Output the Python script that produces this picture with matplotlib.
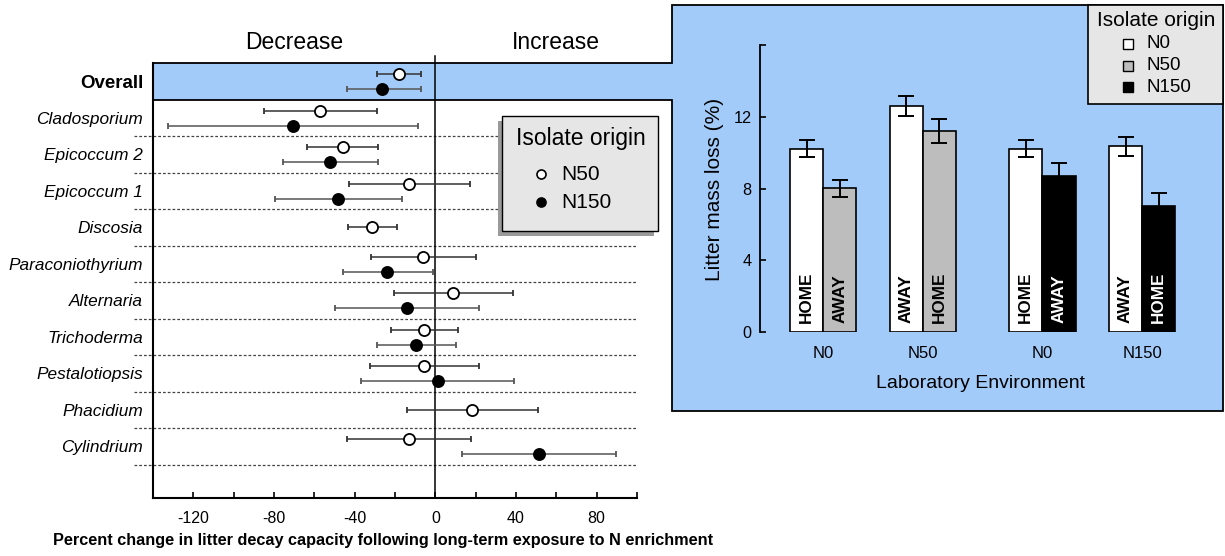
import numpy as np
import matplotlib
matplotlib.use("Agg")
import matplotlib.pyplot as plt
from matplotlib.transforms import Affine2D
from matplotlib.patches import Polygon, Rectangle
from matplotlib.lines import Line2D

plt.rcParams['font.family'] = ['Liberation Sans', 'DejaVu Sans']

# left panel: percent change in decay capacity (mean, lower, upper CI)
taxa = ['Overall', 'Cladosporium', 'Epicoccum 2', 'Epicoccum 1', 'Discosia',
        'Paraconiothyrium', 'Alternaria', 'Trichoderma', 'Pestalotiopsis',
        'Phacidium', 'Cylindrium']
n50_mean = [-17.8, -57.2, -46.0, -13.1, -31.4, -6.0, 8.6, -5.6, -5.6, 18.1, -13.1]
n50_lo = [-28.8, -85.2, -63.7, -43.0, -43.4, -31.8, -20.6, -22.2, -32.5, -14.2, -43.7]
n50_hi = [-7.3, -29.0, -28.6, 17.0, -18.9, 20.0, 38.5, 11.0, 21.7, 50.8, 17.6]
n150_mean = [-26.3, -70.5, -52.3, -48.2, np.nan, -23.9, -14.0, -9.5, 1.1, np.nan, 51.2]
n150_lo = [-44.0, -132.7, -75.5, -79.6, np.nan, -46.0, -49.7, -29.0, -37.0, np.nan, 13.1]
n150_hi = [-7.3, -8.8, -28.6, -16.6, np.nan, -1.1, 21.9, 10.3, 38.9, np.nan, 89.7]

# right panel: litter mass loss (%) by laboratory environment
env_labels = ['N0', 'N50', 'N0', 'N150']
n0_loss = [10.24, 12.6, 10.24, 10.37]
n0_se = [0.46, 0.55, 0.46, 0.52]
n0_tag = ['HOME', 'AWAY', 'HOME', 'AWAY']
enr_loss = [8.02, 11.23, 8.73, 7.01]
enr_se = [0.48, 0.68, 0.71, 0.75]
enr_origin = ['N50', 'N50', 'N150', 'N150']
enr_tag = ['AWAY', 'HOME', 'AWAY', 'HOME']

W, H = 1225, 556
BLUE = '#a3cbfa'
LEG_GREY = '#e6e6e6'
origin_col = {'N0': 'white', 'N50': '#bdbdbd', 'N150': 'black'}

fig = plt.figure(figsize=(W / 100, H / 100), dpi=100)
px = Affine2D().scale(1.0 / W, -1.0 / H).translate(0, 1) + fig.transFigure


def box(x0, y0, x1, y1):
    return [x0 / W, 1 - y1 / H, (x1 - x0) / W, (y1 - y0) / H]


# blue callout shape (right panel joined to the Overall band)
shape = Polygon([(672, 5), (1223, 5), (1223, 411), (672, 411), (672, 100),
                 (153, 100), (153, 63), (672, 63)], closed=True,
                facecolor=BLUE, edgecolor='black', lw=1.3, transform=px, zorder=-1)
fig.add_artist(shape)

# ---------------- left panel ----------------
row_h = 36.5
ax1 = fig.add_axes(box(153, 63, 637, 498.3))
ax1.set_facecolor('none')
ybot = (498.3 - 63) / row_h
ax1.set_xlim(-140, 100)
ax1.set_ylim(ybot, 0)

for i in range(len(taxa)):
    single = np.isnan(n150_mean[i])
    y50 = i + (0.5 if single else 0.31)
    ax1.errorbar(n50_mean[i], y50,
                 xerr=[[n50_mean[i] - n50_lo[i]], [n50_hi[i] - n50_mean[i]]],
                 fmt='o', ms=8, mfc='white', mec='black', mew=1.3,
                 ecolor='#333333', elinewidth=1.1, capsize=2.2, capthick=1.1, zorder=4)
    if not single:
        ax1.errorbar(n150_mean[i], i + 0.72,
                     xerr=[[n150_mean[i] - n150_lo[i]], [n150_hi[i] - n150_mean[i]]],
                     fmt='o', ms=8, mfc='black', mec='black', mew=1.3,
                     ecolor='#555555', elinewidth=1.1, capsize=2.2, capthick=1.1, zorder=4)

for i in range(2, len(taxa) + 1):
    ax1.plot([-149.5, 100], [i, i], ls=(0, (2.2, 1.6)), color='#444444', lw=0.9,
             clip_on=False, zorder=1)

ax1.plot([0, 0], [-0.2, ybot], color='black', lw=1.1, clip_on=False, zorder=3)

ax1.text(-70, -0.57, 'Decrease', ha='center', va='center', fontsize=16.5)
ax1.text(60, -0.57, 'Increase', ha='center', va='center', fontsize=16.5)

for s in ['top', 'right']:
    ax1.spines[s].set_visible(False)
for s in ['left', 'bottom']:
    ax1.spines[s].set_linewidth(1.5)

ax1.set_xticks(np.arange(-120, 81, 40))
ax1.set_xticklabels([str(v) for v in range(-120, 81, 40)], fontsize=11.5)
ax1.set_xticks(np.arange(-140, 101, 20), minor=True)
ax1.tick_params(axis='x', which='both', direction='in', length=4.5, width=1.2, pad=9)
ax1.set_yticks(np.arange(len(taxa)) + 0.5)
ax1.set_yticklabels(taxa)
ax1.tick_params(axis='y', length=0, pad=7)
for k, lab in enumerate(ax1.get_yticklabels()):
    if k == 0:
        lab.set_fontweight('bold')
        lab.set_fontsize(13.5)
    else:
        lab.set_fontstyle('italic')
        lab.set_fontsize(12.4)

fig.text(383, 541, 'Percent change in litter decay capacity following long-term exposure to N enrichment',
         transform=px, ha='center', va='center', fontsize=11.7, fontweight='bold')

# left legend with shadow
fig.add_artist(Rectangle((498, 121), 156, 115, facecolor='#9a9a9a', edgecolor='none',
                         transform=px, zorder=5))
fig.add_artist(Rectangle((502, 116), 156, 115, facecolor=LEG_GREY, edgecolor='black',
                         lw=1.0, transform=px, zorder=6))
fig.text(581, 139, 'Isolate origin', transform=px, ha='center', va='center',
         fontsize=16.5, zorder=7)
for yy, fc, name in [(174, 'white', 'N50'), (202, 'black', 'N150')]:
    fig.add_artist(Line2D([541], [yy], marker='o', ms=6.5, mfc=fc, mec='black', mew=1.2,
                          transform=px, zorder=7))
    fig.text(561, yy, name, transform=px, ha='left', va='center', fontsize=15, zorder=7)

# ---------------- right panel ----------------
grp_x = np.array([1.9, 4.9, 8.5, 11.5])
ax2 = fig.add_axes(box(760, 45.3, 1192, 332))
ax2.set_facecolor('none')
ax2.set_xlim(0, 13)
ax2.set_ylim(0, 16)

ax2.bar(grp_x - 0.5, n0_loss, width=1.0, color=origin_col['N0'], edgecolor='black', lw=1.2, zorder=2)
ax2.bar(grp_x + 0.5, enr_loss, width=1.0, color=[origin_col[o] for o in enr_origin],
        edgecolor='black', lw=1.2, zorder=2)
ax2.errorbar(grp_x - 0.5, n0_loss, yerr=n0_se, fmt='none', ecolor='black',
             elinewidth=1.4, capsize=6, capthick=1.4, zorder=3)
ax2.errorbar(grp_x + 0.5, enr_loss, yerr=enr_se, fmt='none', ecolor='black',
             elinewidth=1.4, capsize=6, capthick=1.4, zorder=3)

for j in range(len(grp_x)):
    ax2.text(grp_x[j] - 0.5, 0.5, n0_tag[j], rotation=90, ha='center', va='bottom',
             fontsize=12.3, fontweight='bold', color='black', zorder=4)
    tc = 'white' if enr_origin[j] == 'N150' else 'black'
    ax2.text(grp_x[j] + 0.5, 0.5, enr_tag[j], rotation=90, ha='center', va='bottom',
             fontsize=12.3, fontweight='bold', color=tc, zorder=4)

for s in ['top', 'right', 'bottom']:
    ax2.spines[s].set_visible(False)
ax2.spines['left'].set_linewidth(1.3)
ax2.set_yticks([0, 4, 8, 12, 16])
ax2.set_yticklabels(['0', '4', '8', '12', ''], fontsize=11.7)
ax2.tick_params(axis='y', direction='in', length=4, width=1.2, pad=6)
ax2.set_xticks(grp_x)
ax2.set_xticklabels(env_labels, fontsize=12)
ax2.tick_params(axis='x', length=0, pad=10)

fig.text(714, 189, 'Litter mass loss (%)', transform=px, rotation=90,
         ha='center', va='center', fontsize=15)
fig.text(980, 383, 'Laboratory Environment', transform=px, ha='center', va='center',
         fontsize=14)

# right legend
fig.add_artist(Rectangle((1088, 5), 135, 99, facecolor=LEG_GREY, edgecolor='black',
                         lw=1.2, transform=px, zorder=6))
fig.text(1156, 21, 'Isolate origin', transform=px, ha='center', va='center',
         fontsize=15, zorder=7)
for yy, name in [(44, 'N0'), (65.5, 'N50'), (87, 'N150')]:
    fig.add_artist(Line2D([1128], [yy], marker='s', ms=7.5, mfc=origin_col[name], mec='black',
                          mew=1.0, transform=px, zorder=7))
    fig.text(1146, yy, name, transform=px, ha='left', va='center', fontsize=13.5, zorder=7)

fig.savefig('out.png', dpi=100)
